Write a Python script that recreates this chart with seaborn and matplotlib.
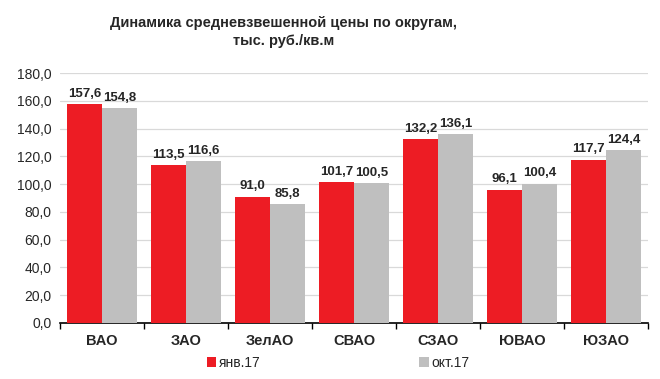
import pandas as pd
import matplotlib
matplotlib.use('Agg')
import matplotlib.pyplot as plt
import seaborn as sns

okruga = ['ВАО', 'ЗАО', 'ЗелАО', 'СВАО', 'СЗАО', 'ЮВАО', 'ЮЗАО']
jan17 = [157.6, 113.5, 91.0, 101.7, 132.2, 96.1, 117.7]
oct17 = [154.8, 116.6, 85.8, 100.5, 136.1, 100.4, 124.4]
series = ['янв.17', 'окт.17']

df = pd.DataFrame({
    'okrug': okruga * 2,
    'period': [series[0]] * len(okruga) + [series[1]] * len(okruga),
    'price': jan17 + oct17,
})

sns.set_style('white')
plt.rcParams['font.family'] = ['Liberation Sans', 'DejaVu Sans']

fig = plt.figure(figsize=(6.6, 3.79), dpi=100)
ax = fig.add_axes([0.091, 0.148, 0.891, 0.659])

sns.barplot(data=df, x='okrug', y='price', hue='period',
            palette=['#ED1C24', '#BFBFBF'], width=0.83, saturation=1,
            linewidth=0, ax=ax, zorder=3)

# podpisi znachenij
for cont in ax.containers:
    labels = [f'{b.get_height():.1f}'.replace('.', ',') for b in cont]
    ax.bar_label(cont, labels=labels, padding=3, fontsize=9.5, fontweight='bold')

ax.set_ylim(0, 180)
ax.set_yticks(range(0, 181, 20))
ax.set_yticklabels([f'{v},0' for v in range(0, 181, 20)], fontsize=10)
ax.yaxis.grid(True, color='#D9D9D9', linewidth=0.9, zorder=0)
ax.set_xlim(-0.5, len(okruga) - 0.5)
ax.set_xticks(range(len(okruga)))
ax.set_xticklabels(okruga, fontsize=10.5, fontweight='bold')
ax.set_xticks([i - 0.5 for i in range(len(okruga) + 1)], minor=True)
ax.tick_params(axis='x', which='major', length=0, pad=8)
ax.tick_params(axis='x', which='minor', length=4, width=1, color='black', direction='out', bottom=True)
ax.tick_params(axis='y', length=0, pad=6)
ax.set_xlabel('')
ax.set_ylabel('')
for s in ['top', 'right', 'left']:
    ax.spines[s].set_visible(False)
ax.spines['bottom'].set_color('black')
ax.spines['bottom'].set_linewidth(1.2)

h, l = ax.get_legend_handles_labels()
ax.legend(h, l, loc='center', bbox_to_anchor=(0.473, -0.16), ncol=2,
          frameon=False, fontsize=10, handlelength=0.7, handleheight=0.7,
          handletextpad=0.2, columnspacing=11.4)

fig.text(0.43, 0.915, 'Динамика средневзвешенной цены по округам,\nтыс. руб./кв.м',
         ha='center', va='center', fontsize=10.5, fontweight='bold', linespacing=1.35)

fig.savefig('out.png', dpi=100)
